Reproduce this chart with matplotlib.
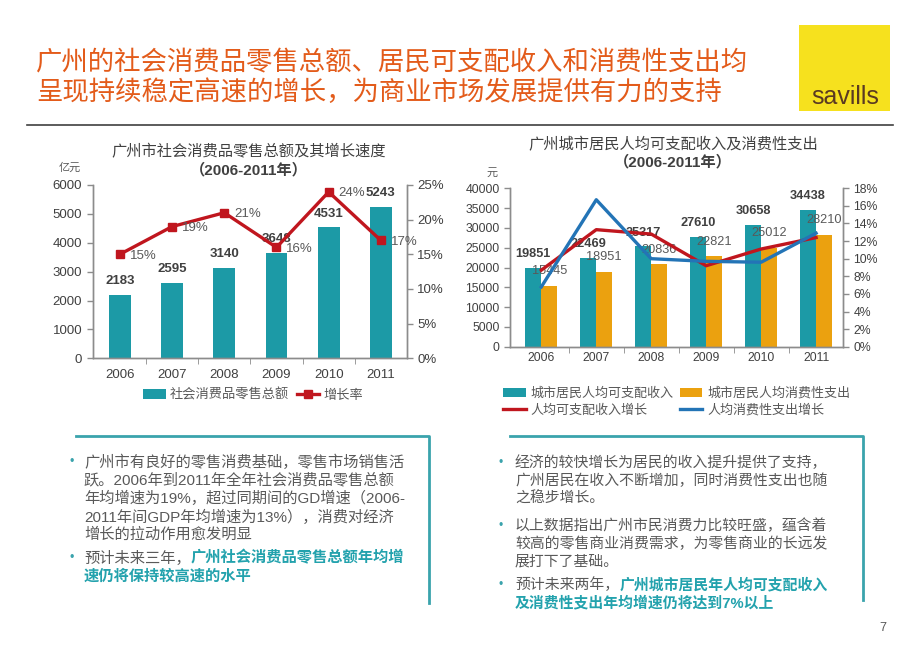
import matplotlib
matplotlib.use("Agg")
import matplotlib.pyplot as plt
from matplotlib.patches import Rectangle
from matplotlib.lines import Line2D
from matplotlib.text import Annotation
from matplotlib.ticker import FuncFormatter, FixedLocator

plt.rcParams["font.family"] = ["Liberation Sans", "Noto Sans CJK SC"]

YEARS = ["2006", "2007", "2008", "2009", "2010", "2011"]
RETAIL = [2183, 2595, 3140, 3648, 4531, 5243]
RETAIL_GROWTH = [15, 19, 21, 16, 24, 17]
INCOME = [19851, 22469, 25317, 27610, 30658, 34438]
EXPENSE = [15445, 18951, 20836, 22821, 25012, 28210]
INCOME_GROWTH = [8.7, 13.3, 12.8, 9.2, 11.1, 12.4]
EXPENSE_GROWTH = [6.8, 16.7, 10.0, 9.7, 9.6, 12.9]

W, H = 920, 651
TEAL = "#1C9AA6"
ORANGE = "#EBA10F"
RED = "#C0161E"
BLUE = "#2374B6"
GRAY_TXT = "#595959"
DARK_TXT = "#404040"
SPINE = "#8C8C8C"
BOX = "#3AA3AC"
HILITE = "#23A2AD"


def fx(x):
    return x / W


def fy(y):
    return 1 - y / H


fig = plt.figure(figsize=(9.2, 6.51), dpi=100)
fig.patch.set_facecolor("white")

# header
fig.text(fx(36), fy(62), "广州的社会消费品零售总额、居民可支配收入和消费性支出均",
         fontsize=19, color="#E35B1A", va="center", ha="left", fontweight="medium")
fig.text(fx(36), fy(92), "呈现持续稳定高速的增长，为商业市场发展提供有力的支持",
         fontsize=19, color="#E35B1A", va="center", ha="left", fontweight="medium")
fig.add_artist(Rectangle((fx(799), fy(111)), fx(91), fy(25) - fy(111),
                         transform=fig.transFigure, facecolor="#F6E11E", edgecolor="none"))
fig.text(fx(845), fy(104), "savills", fontsize=18, color="#5A3A22",
         ha="center", va="baseline", family="Liberation Sans")
fig.add_artist(Line2D([fx(27), fx(893)], [fy(125), fy(125)], transform=fig.transFigure,
                      color="#404040", lw=1.2))


def style_axes(ax, ax2, fs):
    for a in (ax, ax2):
        a.spines["top"].set_visible(False)
        for s in ("left", "right", "bottom"):
            a.spines[s].set_color(SPINE)
            a.spines[s].set_linewidth(1.0)
        a.tick_params(axis="y", colors=SPINE, labelcolor=DARK_TXT, labelsize=fs,
                      direction="out", length=4, width=1)
    ax.tick_params(axis="x", which="major", length=0, labelcolor=DARK_TXT, labelsize=fs, pad=8)
    ax.tick_params(axis="x", which="minor", length=4, color=SPINE, direction="out")
    ax.xaxis.set_minor_locator(FixedLocator([i + 0.5 for i in range(len(YEARS) - 1)]))


pct = FuncFormatter(lambda v, p: f"{v:.0f}%")

# ---------- left chart ----------
ax1 = fig.add_axes([fx(92.7), fy(358.3), fx(407 - 92.7), (358.3 - 185) / H])
x = list(range(len(YEARS)))
ax1.bar(x, RETAIL, width=0.42, color=TEAL, zorder=2, label="社会消费品零售总额")
ax1.set_xlim(-0.52, 5.5)
ax1.set_ylim(0, 6000)
ax1.set_yticks(range(0, 6001, 1000))
ax1.set_xticks(x)
ax1.set_xticklabels(YEARS)
for i, v in enumerate(RETAIL):
    ax1.annotate(str(v), (i, v), xytext=(0, 10), textcoords="offset points",
                 ha="center", va="center", fontsize=9.5, fontweight="bold", color=DARK_TXT)
ax2 = ax1.twinx()
ax2.plot(x, RETAIL_GROWTH, color=RED, lw=2.4, marker="s", markersize=6, label="增长率")
ax2.set_ylim(0, 25)
ax2.set_yticks(range(0, 26, 5))
ax2.yaxis.set_major_formatter(pct)
for i, v in enumerate(RETAIL_GROWTH):
    ax2.annotate(f"{v}%", (i, v), xytext=(7, -1), textcoords="offset points",
                 ha="left", va="center", fontsize=9.5, color=GRAY_TXT)
style_axes(ax1, ax2, 9.5)

fig.text(fx(249), fy(152), "广州市社会消费品零售总额及其增长速度", fontsize=11,
         color=DARK_TXT, ha="center", va="center")
fig.text(fx(249), fy(170), "（2006-2011年）", fontsize=11, fontweight="bold",
         color=DARK_TXT, ha="center", va="center")
fig.text(fx(70), fy(168), "亿元", fontsize=8, color=GRAY_TXT, ha="center", va="center")

h1, l1 = ax1.get_legend_handles_labels()
h2, l2 = ax2.get_legend_handles_labels()
ax1.legend(h1 + h2, l1 + l2, loc="center", bbox_to_anchor=(fx(253), fy(395)),
           bbox_transform=fig.transFigure, ncol=2, frameon=False, fontsize=9.5,
           handlelength=1.7, handleheight=0.7, handletextpad=0.3, columnspacing=0.6,
           labelcolor=GRAY_TXT)

# ---------- right chart ----------
ax3 = fig.add_axes([fx(510), fy(346.7), fx(333), 158.4 / H])
bw = 0.29
ax3.bar([i - bw / 2 for i in x], INCOME, width=bw, color=TEAL, zorder=2, label="城市居民人均可支配收入")
ax3.bar([i + bw / 2 for i in x], EXPENSE, width=bw, color=ORANGE, zorder=2, label="城市居民人均消费性支出")
ax3.set_xlim(-0.57, 5.49)
ax3.set_ylim(0, 40000)
ax3.set_yticks(range(0, 40001, 5000))
ax3.set_xticks(x)
ax3.set_xticklabels(YEARS)
for i, v in enumerate(INCOME):
    ax3.annotate(str(v), (i - bw / 2, v), xytext=(0, 10), textcoords="offset points",
                 ha="center", va="center", fontsize=9.2, fontweight="bold", color=DARK_TXT)
for i, v in enumerate(EXPENSE):
    ax3.annotate(str(v), (i + bw / 2, v), xytext=(0, 10.5), textcoords="offset points",
                 ha="center", va="center", fontsize=9.2, color=GRAY_TXT)
ax4 = ax3.twinx()
ax4.plot(x, INCOME_GROWTH, color=RED, lw=2.4, label="人均可支配收入增长")
ax4.plot(x, EXPENSE_GROWTH, color=BLUE, lw=2.4, label="人均消费性支出增长")
ax4.set_ylim(0, 18)
ax4.set_yticks(range(0, 19, 2))
ax4.yaxis.set_major_formatter(pct)
style_axes(ax3, ax4, 8.8)
ax3.tick_params(axis="x", which="major", pad=4)

fig.text(fx(673), fy(145), "广州城市居民人均可支配收入及消费性支出", fontsize=11,
         color=DARK_TXT, ha="center", va="center")
fig.text(fx(673), fy(162), "（2006-2011年）", fontsize=11, fontweight="bold",
         color=DARK_TXT, ha="center", va="center")
fig.text(fx(492), fy(173), "元", fontsize=8, color=GRAY_TXT, ha="center", va="center")

h3, l3 = ax3.get_legend_handles_labels()
h4, l4 = ax4.get_legend_handles_labels()
ax3.legend([h3[0], h4[0], h3[1], h4[1]], [l3[0], l4[0], l3[1], l4[1]], loc="center",
           bbox_to_anchor=(fx(677), fy(402)), bbox_transform=fig.transFigure, ncol=2,
           frameon=False, fontsize=9.4, handlelength=1.7, handleheight=0.7,
           handletextpad=0.4, columnspacing=0.5, labelspacing=0.35, labelcolor=GRAY_TXT)

# ---------- text boxes ----------
for x0, x1, y1 in [(76, 429, 603), (510, 863, 600)]:
    fig.add_artist(Line2D([fx(x0), fx(x1), fx(x1)], [fy(436), fy(436), fy(y1)],
                          transform=fig.transFigure, color=BOX, lw=2))

# (y, starts a bullet, plain text, highlighted text)
LEFT_LINES = [
    (462, True, "广州市有良好的零售消费基础，零售市场销售活", ""),
    (480, False, "跃。2006年到2011年全年社会消费品零售总额", ""),
    (498.5, False, "年均增速为19%，超过同期间的GD增速（2006-", ""),
    (517, False, "2011年间GDP年均增速为13%），消费对经济", ""),
    (535, False, "增长的拉动作用愈发明显", ""),
    (558, True, "预计未来三年，", "广州社会消费品零售总额年均增"),
    (576.5, False, "", "速仍将保持较高速的水平"),
]
RIGHT_LINES = [
    (463, True, "经济的较快增长为居民的收入提升提供了支持，", ""),
    (480.5, False, "广州居民在收入不断增加，同时消费性支出也随", ""),
    (498.5, False, "之稳步增长。", ""),
    (526, True, "以上数据指出广州市民消费力比较旺盛，蕴含着", ""),
    (544, False, "较高的零售商业消费需求，为零售商业的长远发", ""),
    (562, False, "展打下了基础。", ""),
    (585, True, "预计未来两年，", "广州城市居民年人均可支配收入"),
    (603, False, "", "及消费性支出年均增速仍将达到7%以上"),
]


def draw_lines(lines, x_bullet, x_text, fs):
    for y, bullet, plain, hl in lines:
        if bullet:
            fig.text(fx(x_bullet), fy(y), "•", fontsize=fs * 0.8, color=BOX,
                     ha="center", va="center")
        if plain:
            t = fig.text(fx(x_text), fy(y), plain, fontsize=fs, color=GRAY_TXT,
                         ha="left", va="center")
            if hl:
                # highlighted part continues right after the plain text
                fig.add_artist(Annotation(hl, xy=(1, 0), xycoords=t, ha="left", va="bottom",
                                          fontsize=fs, color=HILITE, fontweight="bold"))
        elif hl:
            fig.text(fx(x_text), fy(y), hl, fontsize=fs, color=HILITE,
                     fontweight="bold", ha="left", va="center")


draw_lines(LEFT_LINES, 72, 84, 11)
draw_lines(RIGHT_LINES, 501, 515, 10.7)

fig.text(fx(883), fy(628), "7", fontsize=9, color=GRAY_TXT, ha="center", va="center")

fig.savefig("out.png", dpi=100)
